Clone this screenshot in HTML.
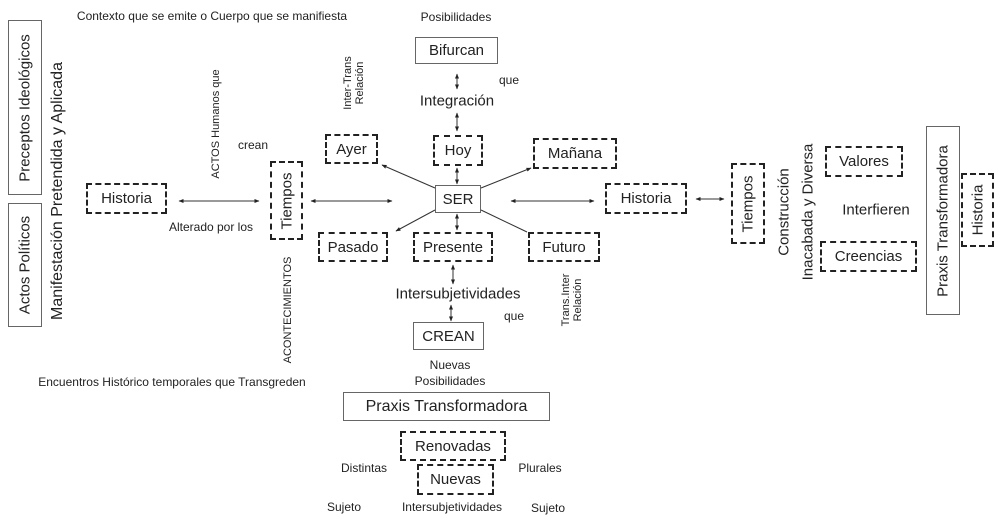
<!DOCTYPE html>
<html><head><meta charset="utf-8"><style>
body{margin:0;width:1000px;height:522px;background:#fff;position:relative;overflow:hidden;font-family:"Liberation Sans",sans-serif;color:#222}
.b{position:absolute;box-sizing:border-box;display:flex;align-items:center;justify-content:center;font-size:15px;white-space:nowrap}
.s{border:1.5px solid #666}
.d{border:2.5px dashed #222}
.t{position:absolute;white-space:nowrap;font-size:12px;transform:translate(-50%,-50%)}
.v{position:absolute;white-space:nowrap;transform:translate(-50%,-50%) rotate(-90deg)}
.vb{position:absolute;box-sizing:border-box}
.vb span{position:absolute;left:50%;top:50%;transform:translate(-50%,-50%) rotate(-90deg);white-space:nowrap;font-size:15px}
svg{position:absolute;left:0;top:0}
</style></head><body>
<svg width="1000" height="522" viewBox="0 0 1000 522">
<defs><marker id="a" viewBox="0 0 10 10" refX="9" refY="5" markerWidth="5" markerHeight="5" orient="auto-start-reverse"><path d="M0,1 L10,5 L0,9z" fill="#222"/></marker></defs>
<g stroke="#333" stroke-width="1" fill="none">
<line x1="179" y1="201" x2="259" y2="201" marker-start="url(#a)" marker-end="url(#a)"/>
<line x1="311" y1="201" x2="392" y2="201" marker-start="url(#a)" marker-end="url(#a)"/>
<line x1="511" y1="201" x2="594" y2="201" marker-start="url(#a)" marker-end="url(#a)"/>
<line x1="696" y1="199" x2="724" y2="199" marker-start="url(#a)" marker-end="url(#a)"/>
<line x1="457" y1="74" x2="457" y2="89" marker-start="url(#a)" marker-end="url(#a)"/>
<line x1="457" y1="113" x2="457" y2="131" marker-start="url(#a)" marker-end="url(#a)"/>
<line x1="457" y1="168" x2="457" y2="184" marker-start="url(#a)" marker-end="url(#a)"/>
<line x1="457" y1="214" x2="457" y2="230" marker-start="url(#a)" marker-end="url(#a)"/>
<line x1="453" y1="265" x2="453" y2="284" marker-start="url(#a)" marker-end="url(#a)"/>
<line x1="451" y1="305" x2="451" y2="321" marker-start="url(#a)" marker-end="url(#a)"/>
<line x1="435" y1="188" x2="382" y2="165" marker-end="url(#a)"/>
<line x1="481" y1="188" x2="531" y2="168" marker-end="url(#a)"/>
<line x1="435" y1="210" x2="396" y2="231" marker-end="url(#a)"/>
<line x1="481" y1="210" x2="527" y2="232"/>
</g></svg>

<div class="t" style="left:212px;top:16px">Contexto que se emite o Cuerpo que se manifiesta</div>
<div class="t" style="left:456px;top:17px">Posibilidades</div>

<div class="vb s" style="left:8px;top:20px;width:34px;height:175px"><span>Preceptos Ideológicos</span></div>
<div class="vb s" style="left:8px;top:203px;width:34px;height:124px"><span>Actos Políticos</span></div>
<div class="v" style="left:58px;top:191px;font-size:16px">Manifestación Pretendida y Aplicada</div>

<div class="b d" style="left:86px;top:183px;width:81px;height:31px">Historia</div>
<div class="t" style="left:211px;top:227px">Alterado por los</div>
<div class="v" style="left:216px;top:124px;font-size:11px">ACTOS Humanos que</div>
<div class="t" style="left:253px;top:145px">crean</div>
<div class="vb d" style="left:270px;top:161px;width:33px;height:79px"><span>Tiempos</span></div>
<div class="v" style="left:288px;top:310px;font-size:11px">ACONTECIMIENTOS</div>
<div class="v" style="left:354px;top:83px;font-size:11px;line-height:12px;text-align:center">Inter-Trans<br>Relación</div>

<div class="b s" style="left:415px;top:37px;width:83px;height:27px">Bifurcan</div>
<div class="t" style="left:509px;top:80px">que</div>
<div class="t" style="left:457px;top:101px;font-size:15px">Integración</div>
<div class="b d" style="left:325px;top:134px;width:53px;height:30px">Ayer</div>
<div class="b d" style="left:433px;top:135px;width:50px;height:31px">Hoy</div>
<div class="b d" style="left:533px;top:138px;width:84px;height:31px">Mañana</div>
<div class="b s" style="left:435px;top:185px;width:46px;height:28px">SER</div>
<div class="b d" style="left:605px;top:183px;width:82px;height:31px">Historia</div>
<div class="b d" style="left:318px;top:232px;width:70px;height:30px">Pasado</div>
<div class="b d" style="left:413px;top:232px;width:80px;height:30px">Presente</div>
<div class="b d" style="left:528px;top:232px;width:72px;height:30px">Futuro</div>
<div class="t" style="left:458px;top:294px;font-size:15px">Intersubjetividades</div>
<div class="t" style="left:514px;top:316px">que</div>
<div class="v" style="left:572px;top:300px;font-size:11px;line-height:12px;text-align:center">Trans.Inter<br>Relación</div>
<div class="b s" style="left:413px;top:322px;width:71px;height:28px">CREAN</div>
<div class="t" style="left:450px;top:365px">Nuevas</div>
<div class="t" style="left:450px;top:381px">Posibilidades</div>
<div class="t" style="left:172px;top:382px">Encuentros Histórico temporales que Transgreden</div>

<div class="vb d" style="left:731px;top:163px;width:34px;height:81px"><span>Tiempos</span></div>
<div class="v" style="left:784px;top:212px;font-size:15px">Construcción</div>
<div class="v" style="left:808px;top:212px;font-size:15px">Inacabada y Diversa</div>
<div class="b d" style="left:825px;top:146px;width:78px;height:31px">Valores</div>
<div class="t" style="left:876px;top:210px;font-size:15px">Interfieren</div>
<div class="b d" style="left:820px;top:241px;width:97px;height:31px">Creencias</div>
<div class="vb s" style="left:926px;top:126px;width:34px;height:189px"><span>Praxis Transformadora</span></div>
<div class="vb d" style="left:961px;top:173px;width:33px;height:74px"><span>Historia</span></div>

<div class="b s" style="left:343px;top:392px;width:207px;height:29px;font-size:16px">Praxis Transformadora</div>
<div class="b d" style="left:400px;top:431px;width:106px;height:30px">Renovadas</div>
<div class="t" style="left:364px;top:468px">Distintas</div>
<div class="b d" style="left:417px;top:464px;width:77px;height:31px">Nuevas</div>
<div class="t" style="left:540px;top:468px">Plurales</div>
<div class="t" style="left:344px;top:507px">Sujeto</div>
<div class="t" style="left:452px;top:507px">Intersubjetividades</div>
<div class="t" style="left:548px;top:508px">Sujeto</div>
</body></html>
